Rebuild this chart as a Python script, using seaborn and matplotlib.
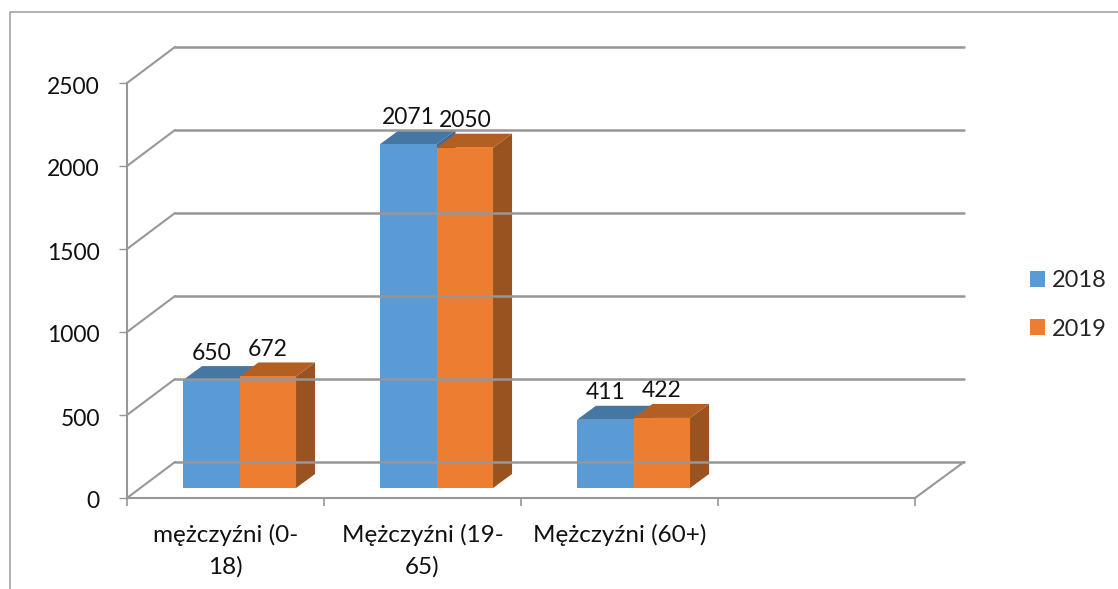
import pandas as pd
import matplotlib
matplotlib.use('Agg')
import matplotlib.pyplot as plt
import seaborn as sns
from matplotlib.lines import Line2D
from matplotlib.patches import Polygon
from matplotlib.transforms import Affine2D, IdentityTransform

categories = ['mężczyźni (0-\n18)', 'Mężczyźni (19-\n65)', 'Mężczyźni (60+)', '']
groups = categories[:3]
values_2018 = [650, 2071, 411]
values_2019 = [672, 2050, 422]
y_ticks = [0, 500, 1000, 1500, 2000, 2500]

W, H = 1118, 589
LINE = '#979797'
TEXT = '#111111'
FS = 16.5
FS_CAT = 17.5
colors = {'2018': '#5B9BD5', '2019': '#ED7D31'}
top_colors = {'2018': '#4677A3', '2019': '#B35E23'}
side_colors = {'2018': '#3F6C95', '2019': '#985320'}

sns.set_style('white')
plt.rcParams['font.family'] = ['Lato', 'DejaVu Sans']

data = pd.DataFrame({
    'group': groups * 2,
    'year': ['2018'] * 3 + ['2019'] * 3,
    'value': values_2018 + values_2019,
})

fig = plt.figure(figsize=(W / 100, H / 100), dpi=100)
ax = fig.add_axes([127 / W, (H - 498) / H, 788 / W, 415 / H])
sns.barplot(data=data, x='group', y='value', hue='year', order=categories,
            palette=colors, width=0.574, gap=0, saturation=1, linewidth=0,
            legend=True, ax=ax, zorder=3)
ax.set_xlim(-0.5, 3.5)
ax.set_ylim(0, 2500)
ax.set_xlabel('')
ax.set_ylabel('')
ax.patch.set_alpha(0)

# axes
for s in ['top', 'right']:
    ax.spines[s].set_visible(False)
for s in ['left', 'bottom']:
    ax.spines[s].set_color(LINE)
    ax.spines[s].set_linewidth(1.5)

ax.set_yticks(y_ticks)
ax.tick_params(axis='y', length=6, width=1, color=LINE, pad=13.5, labelsize=FS, labelcolor=TEXT, left=True)
# the y labels sit a little below their ticks
for lab in ax.get_yticklabels():
    lab.set_transform(lab.get_transform() + Affine2D().translate(0, -2))
ax.set_xticks([i - 0.5 for i in range(len(categories) + 1)])
ax.set_xticklabels([])
ax.tick_params(axis='x', which='major', length=6, width=1.2, color=LINE, bottom=True)
ax.set_xticks(range(len(categories)), minor=True)
ax.set_xticklabels(categories, minor=True, fontsize=FS_CAT, color=TEXT, linespacing=1.58)
ax.tick_params(axis='x', which='minor', length=0, pad=18.5, bottom=False)

# back wall and floor
to_px = ax.transData.transform
back = (48, 36)
x0, x1 = ax.get_xlim()
for v in y_ticks:
    (ax0, py), = to_px([(x0, v)])
    (ax1, _), = to_px([(x1, v)])
    fig.add_artist(Line2D([ax0, ax0 + back[0]], [py, py + back[1]], color=LINE, lw=1.5,
                          transform=IdentityTransform(), zorder=1))
    fig.add_artist(Line2D([ax0 + back[0], ax1 + back[0] + 1], [py + back[1], py + back[1]], color=LINE, lw=1.8,
                          transform=IdentityTransform(), zorder=1))
(ax1, py), = to_px([(x1, 0)])
fig.add_artist(Line2D([ax1, ax1 + back[0] + 1], [py, py + back[1]], color=LINE, lw=1.5,
                      transform=IdentityTransform(), zorder=1))

# chart frame
fig.add_artist(Line2D([9.5, 9.5, W], [0, H - 12, H - 12], color='#aaaaaa', lw=1.3,
                      transform=IdentityTransform()))

# 3d faces on the bars, 2019 sits in front of 2018
shift = Affine2D().translate(14, 10)
dx, dy = 19, 14
for n, (container, year) in enumerate(zip(ax.containers, ['2018', '2019'])):
    for bar in container:
        xa, xb = bar.get_x(), bar.get_x() + bar.get_width()
        h = bar.get_height()
        bar.set_transform(ax.transData + shift)
        bar.set_clip_on(False)
        bar.set_zorder(3.1 + n)
        (pl, pb), (pr, pt) = shift.transform(to_px([(xa, 0), (xb, h)]))
        ax.add_patch(Polygon([(pr, pb), (pr + dx, pb + dy), (pr + dx, pt + dy), (pr, pt)],
                             closed=True, fc=side_colors[year], lw=0, clip_on=False,
                             transform=IdentityTransform(), zorder=3 + n))
        ax.add_patch(Polygon([(pl, pt), (pl + dx, pt + dy), (pr + dx, pt + dy), (pr, pt)],
                             closed=True, fc=top_colors[year], lw=0, clip_on=False,
                             transform=IdentityTransform(), zorder=3 + n))
        ax.text((pl + pr) / 2, pt + 27, str(int(h)), ha='center', va='center', fontsize=FS,
                color=TEXT, transform=IdentityTransform(), zorder=6)

handles, labels = ax.get_legend_handles_labels()
ax.legend(handles, labels, loc='center left', bbox_to_anchor=(1030 / W, (H - 305) / H),
          bbox_transform=fig.transFigure, frameon=False, fontsize=17, handlelength=0.64,
          handleheight=0.64, handletextpad=0.27, labelspacing=1.15, borderpad=0, borderaxespad=0)

fig.savefig('out.png', dpi=100)
